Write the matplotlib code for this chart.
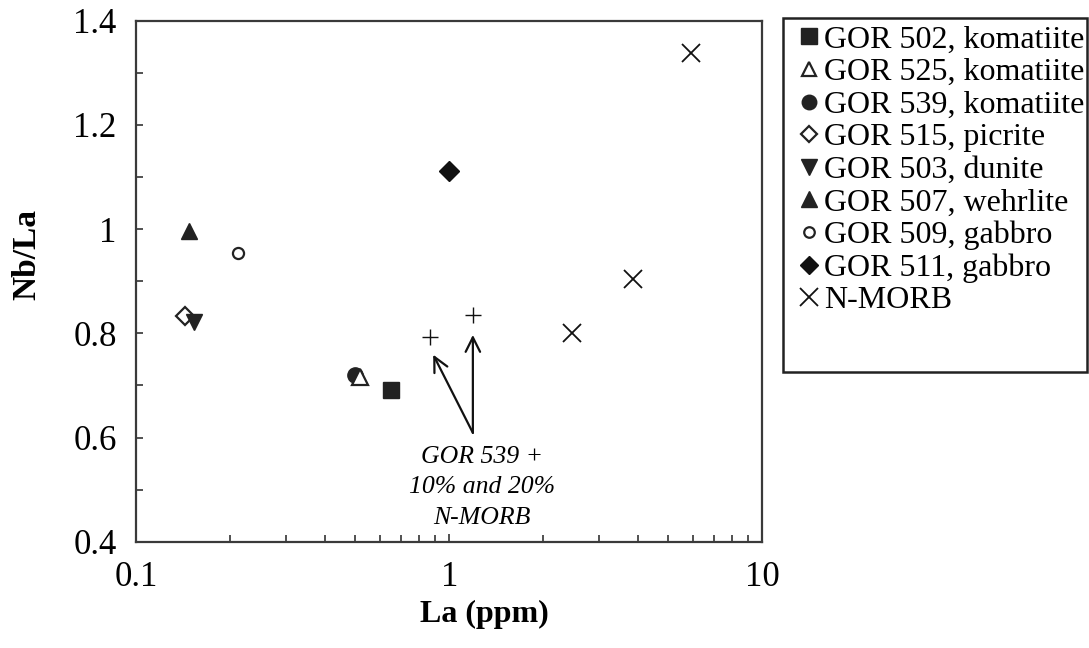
import matplotlib
matplotlib.use("Agg")
import matplotlib.pyplot as plt
from matplotlib.patches import Rectangle
from matplotlib.ticker import FixedLocator, NullFormatter, LogLocator, FixedFormatter

plt.rcParams['font.family'] = ['Liberation Serif', 'DejaVu Serif']

# Sample data (La ppm, Nb/La)
labels = ["GOR 502, komatiite", "GOR 525, komatiite", "GOR 539, komatiite",
          "GOR 515, picrite", "GOR 503, dunite", "GOR 507, wehrlite",
          "GOR 509, gabbro", "GOR 511, gabbro", "N-MORB"]
la_502 = [0.65];  nbla_502 = [0.692]
la_525 = [0.52];  nbla_525 = [0.717]
la_539 = [0.50];  nbla_539 = [0.72]
la_515 = [0.1435]; nbla_515 = [0.834]
la_503 = [0.153]; nbla_503 = [0.822]
la_507 = [0.148]; nbla_507 = [0.997]
la_509 = [0.212]; nbla_509 = [0.955]
la_511 = [1.0];   nbla_511 = [1.112]
la_morb = [2.47, 3.85, 5.93]; nbla_morb = [0.801, 0.905, 1.339]
la_mix = [0.87, 1.19]; nbla_mix = [0.793, 0.836]
arrow_tips_la = [0.889, 1.19]; arrow_tips_nbla = [0.759, 0.797]
arrow_base = (1.19, 0.609)
note_pos = (1.27, 0.505)

fig = plt.figure(figsize=(10.89, 6.48), dpi=100)
ax = fig.add_axes([0.125, 0.164, 0.575, 0.804])

dk = '#222222'
h = []
h.append(ax.plot(la_502, nbla_502, ls='none', marker='s', ms=12, color=dk, label=labels[0])[0])
h.append(ax.plot(la_539, nbla_539, ls='none', marker='o', ms=11, color=dk, label=labels[2])[0])
h.append(ax.plot(la_525, nbla_525, ls='none', marker='^', ms=11, mfc='white', mec=dk, mew=1.6, label=labels[1])[0])
h.append(ax.plot(la_515, nbla_515, ls='none', marker='D', ms=9, mfc='white', mec=dk, mew=1.6, label=labels[3])[0])
h.append(ax.plot(la_503, nbla_503, ls='none', marker='v', ms=12, color=dk, label=labels[4])[0])
h.append(ax.plot(la_507, nbla_507, ls='none', marker='^', ms=12, color=dk, label=labels[5])[0])
h.append(ax.plot(la_509, nbla_509, ls='none', marker='o', ms=8, mfc='white', mec=dk, mew=1.6, label=labels[6])[0])
h.append(ax.plot(la_511, nbla_511, ls='none', marker='D', ms=10, color='#111111', label=labels[7])[0])
h.append(ax.plot(la_morb, nbla_morb, ls='none', marker='x', ms=13, mew=1.3, color='#111111', label=labels[8])[0])
ax.plot(la_mix, nbla_mix, ls='none', marker='+', ms=12, mew=1.0, color='#111111')

ax.set_xscale('log')
ax.set_xlim(0.1, 10)
ax.set_ylim(0.4, 1.4)

ax.xaxis.set_major_locator(FixedLocator([0.1, 1, 10]))
ax.xaxis.set_major_formatter(FixedFormatter(['0.1', '1', '10']))
ax.xaxis.set_minor_locator(LogLocator(base=10, subs=range(2, 10)))
ax.xaxis.set_minor_formatter(NullFormatter())
ax.yaxis.set_major_locator(FixedLocator([0.4, 0.6, 0.8, 1.0, 1.2, 1.4]))
ax.yaxis.set_major_formatter(FixedFormatter(['0.4', '0.6', '0.8', '1', '1.2', '1.4']))
ax.yaxis.set_minor_locator(FixedLocator([0.5, 0.7, 0.9, 1.1, 1.3]))

ax.tick_params(axis='both', which='both', direction='in', length=5, width=1.2,
               labelsize=25, color='#333333')
ax.tick_params(axis='y', which='major', pad=14)
ax.tick_params(axis='x', which='major', length=6, pad=14)
for s in ax.spines.values():
    s.set_linewidth(1.6)
    s.set_color('#3a3a3a')

ax.set_xlabel('La (ppm)', fontsize=23, fontweight='bold')
ax.xaxis.set_label_coords(0.556, -0.111)
ax.set_ylabel('Nb/La', fontsize=24, fontweight='bold')
ax.yaxis.set_label_coords(-0.150, 0.551)

# annotation arrows
for xt, yt in zip(arrow_tips_la, arrow_tips_nbla):
    ax.annotate('', xy=(xt, yt), xytext=arrow_base,
                arrowprops=dict(arrowstyle='->', lw=1.6, color='#111111',
                                mutation_scale=26, shrinkA=0, shrinkB=0))
ax.text(note_pos[0], note_pos[1], 'GOR 539 +\n10% and 20%\nN-MORB', ha='center', va='center',
        fontsize=18.5, style='italic', linespacing=1.5)

# legend box
fig.patches.append(Rectangle((0.719, 0.426), 0.279, 0.546, transform=fig.transFigure,
                             fill=False, edgecolor='#222222', linewidth=1.8))
leg_order = [h[0], h[2], h[1], h[3], h[4], h[5], h[6], h[7], h[8]]
leg = fig.legend(handles=leg_order, labels=labels, loc='upper left',
                 bbox_to_anchor=(0.733, 0.961), fontsize=23, frameon=False,
                 handlelength=0.7, handletextpad=0.1, borderpad=0.0,
                 labelspacing=0.10, borderaxespad=0.0, markerscale=0.95)

fig.savefig('out.png', dpi=100, facecolor='white')
